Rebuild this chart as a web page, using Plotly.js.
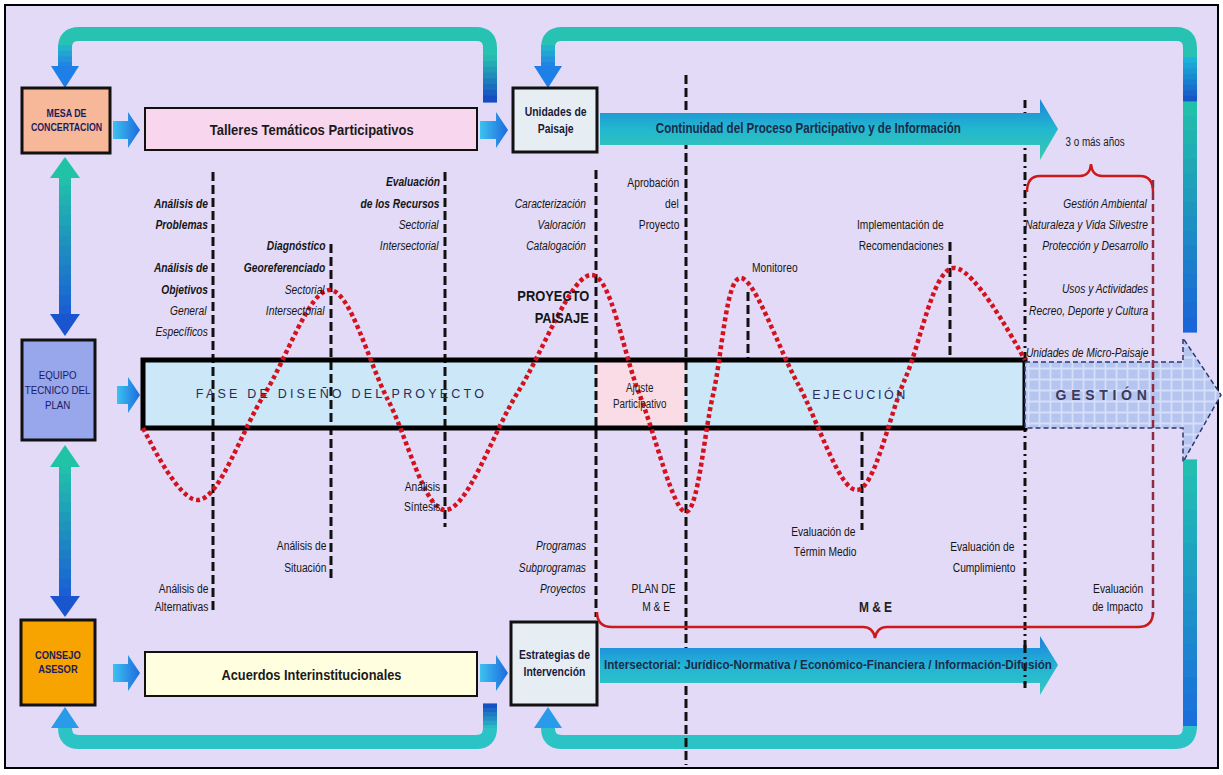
<!DOCTYPE html>
<html><head><meta charset="utf-8">
<script src="https://cdn.plot.ly/plotly-3.0.1.min.js"></script>
<style>html,body{margin:0;padding:0;background:#fff}#chart{width:1223px;height:775px}</style>
</head><body><div id="chart"></div>
<script>
// ================= DATA =================
const actorNames   = ['MESA DE<br>CONCERTACION', 'EQUIPO<br>TECNICO DEL<br>PLAN', 'CONSEJO<br>ASESOR'];
const bandNames    = ['Talleres Temáticos Participativos', 'Acuerdos Interinstitucionales'];
const productNames = ['Unidades de<br>Paisaje', 'Estrategias de<br>Intervención'];
const flowNames    = ['Continuidad del Proceso Participativo y de Información',
                      'Intersectorial: Jurídico-Normativa / Económico-Financiera / Información-Difusión'];
const phaseNames   = ['FASE DE DISEÑO DEL PROYECTO', 'Ajuste<br>Participativo', 'EJECUCIÓN', 'GESTIÓN'];
const braceLabels  = ['3 o más años', 'M & E'];
const stageNotes = [
  'Análisis de','Problemas','Análisis de','Objetivos','General','Específicos','Análisis de','Alternativas',
  'Diagnóstico','Georeferenciado','Sectorial','Intersectorial','Análisis de','Situación',
  'Evaluación','de los Recursos','Sectorial','Intersectorial','Análisis','Síntesis',
  'Caracterización','Valoración','Catalogación','PROYECTO','PAISAJE','Programas','Subprogramas','Proyectos',
  'Aprobación','del','Proyecto','PLAN DE','M & E',
  'Monitoreo','Implementación de','Recomendaciones','Evaluación de','Términ Medio',
  'Evaluación de','Cumplimiento',
  'Gestión Ambiental','Naturaleza y Vida Silvestre','Protección y Desarrollo','Usos y Actividades',
  'Recreo, Deporte y Cultura','Unidades de Micro-Paisaje','Evaluación','de Impacto'
];
// red dotted "wave" of activity intensity (extremes and mid crossings)
const waveX = [143, 198, 264, 330, 388, 445, 518, 592, 639, 686, 713, 740, 798, 857, 905, 953, 1025];
const waveY = [428, 500, 395, 290, 400, 510, 392, 275, 393, 512, 395, 278, 384, 490, 379, 268, 360];

// ================= LAYOUT / STYLE =================
const FB = "'Liberation Sans',Arial,sans-serif";
// [x, y, xanchor, style, size, condense]
const notePos = [
  [210,204,'right','bi'],[210,225,'right','bi'],[210,268,'right','bi'],[210,290,'right','bi'],[210,311,'right','i'],[210,332,'right','i'],[210,589,'right','n'],[210,607,'right','n'],
  [328,246,'right','bi'],[328,268,'right','bi'],[328,290,'right','i'],[328,311,'right','i'],[328,546,'right','n'],[328,568,'right','n'],
  [442,182,'right','bi'],[442,204,'right','bi'],[442,225,'right','i'],[442,246,'right','i'],[442,487,'right','n'],[442,507,'right','n'],
  [588,204,'right','i'],[588,225,'right','i'],[588,246,'right','i'],[591,296,'right','b',14,0.92],[591,318,'right','b',14,0.92],[588,546,'right','i'],[588,568,'right','i'],[588,589,'right','i'],
  [681,183,'right','n'],[681,204,'right','n'],[681,225,'right','n'],[678,589,'right','n'],[672,607,'right','n'],
  [750,268,'left','n'],[946,225,'right','n'],[946,246,'right','n'],[858,532,'right','n'],[858,552,'right','n'],
  [1017,547,'right','n'],[1017,568,'right','n'],
  [1150,204,'right','i'],[1150,225,'right','i'],[1150,246,'right','i'],[1150,289,'right','i'],
  [1150,311,'right','i'],[1150,353,'right','i'],[1145,589,'right','n'],[1145,607,'right','n']
];

const TEAL='#27C2B2', BLUE='#1E80E6', DEEP='#1546C2', LOOP='#2CC3C6';

function hex2rgb(h){h=h.replace('#','');return [0,2,4].map(i=>parseInt(h.substr(i,2),16));}
function mix(a,b,t){const A=hex2rgb(a),B=hex2rgb(b);return 'rgb('+A.map((v,i)=>Math.round(v+(B[i]-v)*t)).join(',')+')';}
const shapes=[];
function rect(x0,y0,x1,y1,fill,lc,lw,layer){shapes.push({type:'rect',xref:'x',yref:'y',x0,y0,x1,y1,fillcolor:fill,line:{color:lc||'rgba(0,0,0,0)',width:lw||0},layer:layer||'below'});}
function seg(x0,y0,x1,y1,color,w,dash,layer){shapes.push({type:'line',xref:'x',yref:'y',x0,y0,x1,y1,line:{color,width:w,dash:dash||'solid'},layer:layer||'below'});}
function path(d,fill,lc,lw,layer){shapes.push({type:'path',xref:'x',yref:'y',path:d,fillcolor:fill||'rgba(0,0,0,0)',line:{color:lc||'rgba(0,0,0,0)',width:lw||0},layer:layer||'below'});}
function gradV(x,y0,y1,c0,c1,w,n){for(let i=0;i<n;i++){const a=y0+(y1-y0)*i/n,b=y0+(y1-y0)*(i+1)/n;seg(x,a-0.6,x,b+0.6,mix(c0,c1,(i+0.5)/n),w);}}

// background frame
rect(5,5,1218,768,'#E2DAF7','#000',2);

// ---- feedback loops ----
path('M 65 62 L 65 48 Q 65 34 79 34 L 476 34 Q 490 34 490 48 L 490 58',null,TEAL,14);
gradV(490,56,102,TEAL,DEEP,14,8);
gradV(65,46,68,'#22B9C8',BLUE,14,4);
path('M 51 66 L 79 66 L 65 88 Z',BLUE);

path('M 548 62 L 548 48 Q 548 34 562 34 L 1176 34 Q 1190 34 1190 48 L 1190 60',null,TEAL,14);
gradV(1190,58,102,'#1CB8D8','#1450C8',14,8);
gradV(1190,102,332,'#22C2A8','#1A62DA',14,16);
gradV(548,46,68,'#22B9C8',BLUE,14,4);
path('M 534 66 L 562 66 L 548 88 Z',BLUE);

gradV(490,704,730,DEEP,LOOP,14,6);
path('M 490 728 Q 490 742 476 742 L 79 742 Q 65 742 65 728 L 65 726',null,LOOP,14);
path('M 51 728 L 79 728 L 65 707 Z','#2A9BE8');

gradV(1190,460,728,'#22C2B0','#1A6CDD',14,16);
path('M 1190 726 Q 1190 742 1176 742 L 562 742 Q 548 742 548 728 L 548 726',null,LOOP,14);
path('M 534 728 L 562 728 L 548 707 Z','#2A9BE8');

// vertical double arrows
gradV(65,176,316,'#22C4A8','#1A5CD6',12,14);
path('M 50 178 L 80 178 L 65 157 Z','#21C3A6');
path('M 50 314 L 80 314 L 65 336 Z','#1A55D0');
gradV(65,465,598,'#22C4A8','#1A5CD6',12,14);
path('M 50 467 L 80 467 L 65 445 Z','#21C3A6');
path('M 50 596 L 80 596 L 65 617 Z','#1A55D0');

// ---- boxes ----
rect(22,88,110,153,'#F6B899','#111',3);
rect(145,108,477,150,'#F8D6EE','#111',2);
rect(513,88,597,152,'#E6EEF4','#111',3);
rect(22,340,95,440,'#98A6EC','#111',3);
rect(21,620,95,705,'#F7A400','#111',3);
rect(145,652,477,696,'#FFFFE0','#111',2);
rect(511,622,597,705,'#E6EEF4','#111',3);

// ---- main phase bar ----
rect(143,360,1025,428,'#CCE8F8');
rect(596,362,686,426,'#F9DCE6');

// dashed stage lines
const DASH='9px,4px';
seg(213,172,213,612,'#111',3,DASH);
seg(331,244,331,578,'#111',3,DASH);
seg(445,172,445,527,'#111',3,DASH);
seg(596,170,596,617,'#111',3,DASH);
seg(686,75,686,765,'#111',3,DASH);
seg(748,292,748,360,'#111',3,DASH);
seg(862,432,862,530,'#111',3,DASH);
seg(950,242,950,360,'#111',3,DASH);
seg(1025,100,1025,688,'#111',3,'8px,4px,2px,4px');
rect(143,360,1025,428,'rgba(0,0,0,0)','#000',5);

// braces
path('M 1027 192 Q 1027 176 1040 176 L 1080 176 Q 1090 176 1091 164 Q 1092 176 1102 176 L 1140 176 Q 1153 176 1153 192',null,'#CC1A1A',2.5);
path('M 597 612 Q 597 627 612 627 L 863 627 Q 873 627 875 638 Q 877 627 887 627 L 1138 627 Q 1153 627 1153 612',null,'#CC1A1A',2.5);

// lines that show over the arrows
seg(1153,180,1153,615,'#8E2B3C',2.5,'8px,4px','above');
seg(1025,645,1025,688,'#111',3,'8px,4px,2px,4px','above');

// ---- traces: gradient arrows and the wave ----
const traces=[];
function poly(xs,ys,fill,grad,extra){const t=Object.assign({x:xs.concat([xs[0]]),y:ys.concat([ys[0]]),mode:'lines',fill:'toself',fillcolor:fill,line:{width:0,color:'rgba(0,0,0,0)'},hoverinfo:'skip',showlegend:false},extra||{});if(grad)t.fillgradient=grad;traces.push(t);}

poly([600,1040,1040,1058,1040,1040,600],[113,113,99,129,160,145,145],'#26B8C8',
  {type:'vertical',colorscale:[[0,'#3CC9AE'],[0.5,'#22B8CF'],[1,'#1E84DA']]});
poly([600,1040,1040,1058,1040,1040,600],[648,648,636,665,695,683,683],'#26B8C8',
  {type:'vertical',colorscale:[[0,'#35C6BE'],[0.5,'#22B4D6'],[1,'#1E7EDC']]});

[[113,140,130],[480,508,130],[117,140,395],[113,140,673],[480,508,673]].forEach(a=>{
  const x0=a[0],x1=a[1],yc=a[2],xh=x1-12;
  poly([x0,xh,xh,x1,xh,xh,x0],[yc-9,yc-9,yc-18,yc,yc+18,yc+9,yc+9],'#2A90E6',
    {type:'horizontal',colorscale:[[0,'#3EC2F0'],[1,'#1C6ADE']]});
});

// GESTIÓN dashed arrow
poly([1025,1183,1183,1221,1183,1183,1025],[362,362,338,395,462,428,428],'#B5C4F0',null,
  {line:{width:1.5,color:'#2A3A70',dash:'5px,3px'},fillpattern:{shape:'+',bgcolor:'#B6C4F0',fgcolor:'#D6DFF8',size:11,solidity:0.3}});

traces.push({x:waveX,y:waveY,mode:'lines',line:{shape:'spline',smoothing:1,color:'#D4121E',width:4.5,dash:'4px,3px'},hoverinfo:'skip',showlegend:false});

// ---- annotations ----
const ann=[], fit=[];
function txt(x,y,text,size,color,fitSpec,opts){fit.push(fitSpec||null);ann.push(Object.assign({x,y,xref:'x',yref:'y',text,showarrow:false,xanchor:'center',yanchor:'middle',font:{family:FB,size,color}},opts||{}));}
function wrap(s,st){if(st==='bi')return '<b><i>'+s+'</i></b>';if(st==='i')return '<i>'+s+'</i>';if(st==='b')return '<b>'+s+'</b>';return s;}

txt(66,120,'<b>'+actorNames[0]+'</b>',11,'#1B1B5E',{f:0.8});
txt(58,390,actorNames[1],11.5,'#1B1B5E',{f:0.85});
txt(58,662,'<b>'+actorNames[2]+'</b>',11,'#1B1B5E',{f:0.85});
txt(311,129,'<b>'+bandNames[0]+'</b>',15,'#1A1A1A',{w:204});
txt(311,674,'<b>'+bandNames[1]+'</b>',15,'#1A1A1A',{w:180});
txt(555,120,'<b>'+productNames[0]+'</b>',13,'#1A1A3A',{f:0.8});
txt(554,663,'<b>'+productNames[1]+'</b>',13,'#1A1A3A',{f:0.8});
txt(808,128,'<b>'+flowNames[0]+'</b>',14,'#1B2B4B',{w:305});
txt(828,664,'<b>'+flowNames[1]+'</b>',13,'#1B2B4B',{w:448});
txt(341,394,phaseNames[0],12.5,'#2B2B55',null);
txt(640,396,phaseNames[1],12,'#222',{f:0.82});
txt(860,394,phaseNames[2],12.5,'#2B2B55',null);
txt(1103,394,'<b>'+phaseNames[3]+'</b>',14,'#3A3A5A',null);
txt(1095,142,braceLabels[0],12,'#222',{f:0.82});
txt(875,607,'<b>'+braceLabels[1]+'</b>',14,'#222',{f:0.85});

stageNotes.forEach((s,i)=>{const p=notePos[i];
  fit.push({f:p[5]||0.82});
  ann.push({x:p[0],y:p[1],xref:'x',yref:'y',text:wrap(s,p[3]),showarrow:false,xanchor:p[2],align:p[2],yanchor:'middle',
    font:{family:FB,size:p[4]||12.5,color:'#151515'}});});

const layout={width:1223,height:775,margin:{l:0,r:0,t:0,b:0},paper_bgcolor:'#fff',plot_bgcolor:'#fff',
  xaxis:{range:[0,1223],visible:false,fixedrange:true},
  yaxis:{range:[775,0],visible:false,fixedrange:true},
  shapes,annotations:ann,showlegend:false};

Plotly.newPlot('chart',traces,layout,{staticPlot:true}).then(()=>{
  const spacing={'FASE DE DISEÑO DEL PROYECTO':'3.2px','EJECUCIÓN':'2.6px','GESTIÓN':'4.7px'};
  document.querySelectorAll('g.annotation').forEach(g=>{
    const t=g.querySelector('text.annotation-text'); if(!t) return;
    const k=t.textContent; if(spacing[k]) { t.style.letterSpacing=spacing[k]; return; }
    const spec=fit[+g.getAttribute('data-index')]; if(!spec) return;
    const lines=t.querySelectorAll('tspan.line');
    const els=lines.length?Array.from(lines):[t];
    els.forEach(e=>{const L=e.getComputedTextLength(); if(!L) return;
      e.setAttribute('textLength',(spec.w?spec.w:L*spec.f).toFixed(1));
      e.setAttribute('lengthAdjust','spacingAndGlyphs');});
  });
});
</script></body></html>
